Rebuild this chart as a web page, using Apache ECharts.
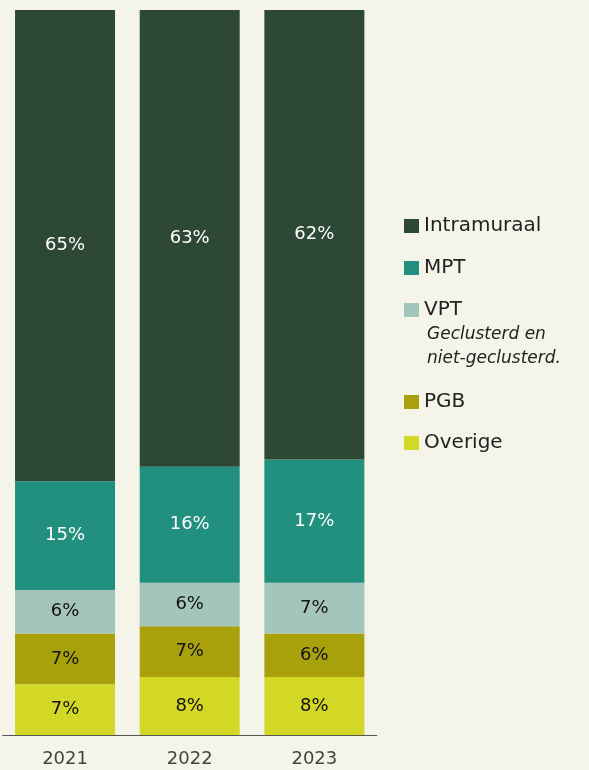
<!DOCTYPE html>
<html>
<head>
<meta charset="utf-8">
<script src="https://cdn.jsdelivr.net/npm/echarts@6/dist/echarts.min.js"></script>
<style>
  html, body { margin: 0; padding: 0; background: #f4f4e8; }
  #chart { width: 589px; height: 770px; }
</style>
</head>
<body>
<div id="chart"></div>
<script>
// shares per year (percent), bottom segment first in the stack
const years = ['2021', '2022', '2023'];
const overige = [7, 8, 8];
const pgb = [7, 7, 6];
const vpt = [6, 6, 7];
const mpt = [15, 16, 17];
const intramuraal = [65, 63, 62];

const font = 'DejaVu Sans';

function bar(name, data, color, labelColor) {
  return {
    name: name,
    type: 'bar',
    stack: 'total',
    barWidth: 100,
    data: data,
    itemStyle: { color: color },
    label: {
      show: true,
      position: 'inside',
      formatter: '{c}%',
      color: labelColor,
      fontFamily: font,
      fontSize: 18
    }
  };
}

const legendText = { color: '#222', fontFamily: font, fontSize: 20, lineHeight: 20 };

const chart = echarts.init(document.getElementById('chart'));
chart.setOption({
  backgroundColor: '#f4f4e8',
  animation: false,
  grid: { left: 2.7, right: 212.3, top: 10, bottom: 35 },
  xAxis: {
    type: 'category',
    data: years,
    axisLine: { lineStyle: { color: '#555', width: 1 } },
    axisTick: { show: false },
    axisLabel: { color: '#444', fontFamily: font, fontSize: 18, margin: 15 }
  },
  yAxis: { type: 'value', min: 0, max: 100, show: false },
  legend: [
    {
      data: ['Intramuraal', 'MPT', 'VPT'],
      orient: 'vertical',
      left: 404,
      top: 216,
      padding: 0,
      icon: 'rect',
      itemWidth: 15,
      itemHeight: 14,
      itemGap: 22,
      selectedMode: false,
      textStyle: legendText
    },
    {
      data: ['PGB', 'Overige'],
      orient: 'vertical',
      left: 404,
      top: 392,
      padding: 0,
      icon: 'rect',
      itemWidth: 15,
      itemHeight: 14,
      itemGap: 21,
      selectedMode: false,
      textStyle: legendText
    }
  ],
  graphic: [{
    type: 'text',
    left: 427,
    top: 323,
    style: {
      text: 'Geclusterd en\nniet-geclusterd.',
      fill: '#222',
      font: 'italic 17px "DejaVu Sans"',
      lineHeight: 24
    }
  }],
  series: [
    bar('Overige', overige, '#d3d827', '#111'),
    bar('PGB', pgb, '#a9a10c', '#111'),
    bar('VPT', vpt, '#a3c5bc', '#111'),
    bar('MPT', mpt, '#21907f', '#fff'),
    bar('Intramuraal', intramuraal, '#2d4936', '#fff')
  ]
});
</script>
</body>
</html>
